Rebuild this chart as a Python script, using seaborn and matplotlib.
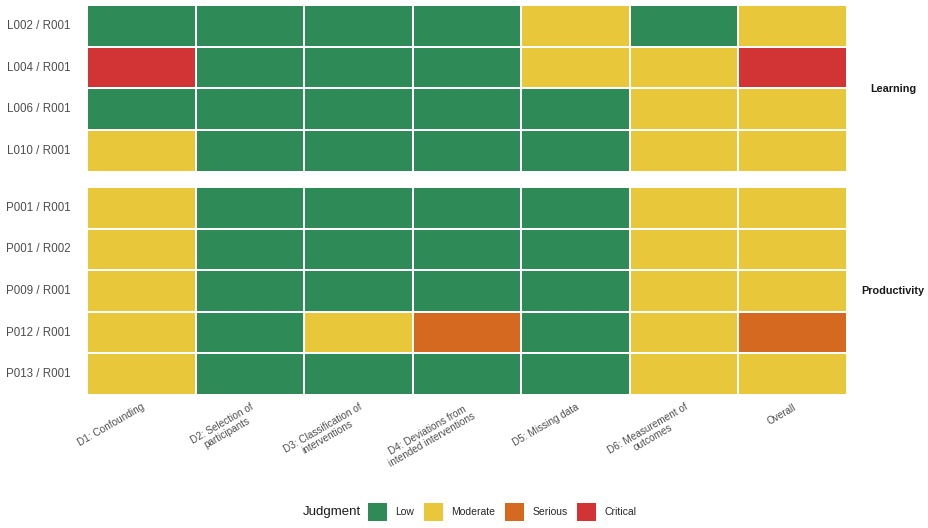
import numpy as np
import pandas as pd
import seaborn as sns
import matplotlib
matplotlib.use("Agg")
import matplotlib.pyplot as plt
from matplotlib.colors import ListedColormap
from matplotlib.patches import Patch

sns.set_theme(style="white")
plt.rcParams['font.family'] = ['Liberation Sans', 'DejaVu Sans']

domains = ["D1: Confounding", "D2: Selection of\nparticipants", "D3: Classification of\ninterventions",
           "D4: Deviations from\nintended interventions", "D5: Missing data",
           "D6: Measurement of\noutcomes", "Overall"]
levels = ["Low", "Moderate", "Serious", "Critical"]
level_colors = ["#2E8B57", "#E8C73A", "#D4691F", "#D23436"]

learning_ids = ["L002 / R001", "L004 / R001", "L006 / R001", "L010 / R001"]
learning_judgments = [
    ["Low", "Low", "Low", "Low", "Moderate", "Low", "Moderate"],
    ["Critical", "Low", "Low", "Low", "Moderate", "Moderate", "Critical"],
    ["Low", "Low", "Low", "Low", "Low", "Moderate", "Moderate"],
    ["Moderate", "Low", "Low", "Low", "Low", "Moderate", "Moderate"],
]
productivity_ids = ["P001 / R001", "P001 / R002", "P009 / R001", "P012 / R001", "P013 / R001"]
productivity_judgments = [
    ["Moderate", "Low", "Low", "Low", "Low", "Moderate", "Moderate"],
    ["Moderate", "Low", "Low", "Low", "Low", "Moderate", "Moderate"],
    ["Moderate", "Low", "Low", "Low", "Low", "Moderate", "Moderate"],
    ["Moderate", "Low", "Moderate", "Serious", "Low", "Moderate", "Serious"],
    ["Moderate", "Low", "Low", "Low", "Low", "Moderate", "Moderate"],
]
facets = ["Learning", "Productivity"]

cmap = ListedColormap(level_colors)
W, H = 929, 528
fig = plt.figure(figsize=(W / 100, H / 100), dpi=100)

def fx(px):
    return px / W

def fy(py):
    return 1 - py / H

left, right = 87, 847
panels = [
    (learning_ids, learning_judgments, 5, 172, facets[0]),
    (productivity_ids, productivity_judgments, 187, 395, facets[1]),
]
tick_color = "#4D4D4D"
for i, (ids, judg, top, bot, fname) in enumerate(panels):
    ax = fig.add_axes([fx(left), fy(bot), fx(right) - fx(left), fy(top) - fy(bot)])
    codes = pd.DataFrame([[levels.index(v) for v in row] for row in judg],
                         index=ids, columns=domains)
    sns.heatmap(codes, cmap=cmap, vmin=-0.5, vmax=3.5, cbar=False,
                linewidths=1.3, linecolor="white", ax=ax)
    ax.tick_params(axis="both", length=0)
    ax.tick_params(axis="y", pad=12)
    ax.set_yticklabels(ids, rotation=0, fontsize=8.3, color=tick_color)
    ax.set_ylabel("")
    ax.set_xlabel("")
    if i == 0:
        ax.set_xticklabels([])
    else:
        ax.tick_params(axis="x", pad=5)
        ax.set_xticklabels(domains, rotation=30, ha="right", va="top",
                           rotation_mode="anchor", multialignment="center",
                           fontsize=7.2, color=tick_color, linespacing=1.05)
    fig.text(fx(893), fy((top + bot) / 2), fname, ha="center", va="center",
             fontsize=7.8, fontweight="bold", color="#1A1A1A")

handles = [Patch(facecolor=c, edgecolor="none", label=l) for c, l in zip(level_colors, levels)]
fig.text(fx(303), fy(512), "Judgment", ha="left", va="center", fontsize=9.5, color="#1A1A1A")
fig.legend(handles=handles, loc="center left", bbox_to_anchor=(fx(368), fy(512)),
           ncol=4, frameon=False, fontsize=7.5, handlelength=1.83, handleheight=2.28,
           handletextpad=0.78, columnspacing=0.95, borderpad=0, borderaxespad=0)

fig.savefig("out.png", dpi=100)
